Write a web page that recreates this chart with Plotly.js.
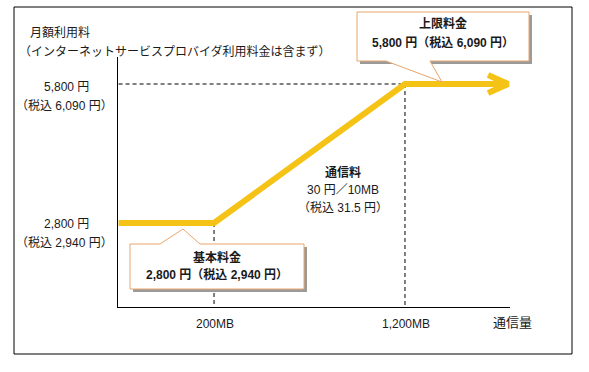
<!DOCTYPE html>
<html>
<head>
<meta charset="utf-8">
<script src="https://cdn.plot.ly/plotly-3.0.1.min.js"></script>
<style>html,body{margin:0;padding:0;background:#fff;}#chart{width:589px;height:372px;}</style>
</head>
<body>
<div id="chart"></div>
<script>
// ---- data (schematic) ----
const usageMB = [-300, 200, 1200, 1740];          // 通信量 (MB); first point = axis origin
const feeYen  = [2800, 2800, 5800, 5800];          // 月額利用料 (円)
const arrowX  = [1635, 1740, 1635];
const arrowY  = [5995, 5800, 5605];
const xTickVals   = [200, 1200];
const xTickLabels = ['200MB', '1,200MB'];
const yTickVals   = [5800, 2800];
const yTickLabels = [['5,800 円', '（税込 6,090 円）'], ['2,800 円', '（税込 2,940 円）']];
const basicFee  = ['基本料金', '2,800 円（税込 2,940 円）'];
const capFee    = ['上限料金', '5,800 円（税込 6,090 円）'];
const unitFee   = ['通信料', '30 円／10MB', '（税込 31.5 円）'];
const yTitle    = ['月額利用料', '（インターネットサービスプロバイダ利用料金は含まず）'];
const xTitle    = '通信量';

// ---- geometry helpers (pixel -> paper) ----
const W = 589, H = 372, L = 118, R = 79, T = 57, B = 65;
const PW = W - L - R, PH = H - T - B;
const px = v => (v - L) / PW;
const py = v => (H - B - v) / PH;
const path = pts => 'M ' + pts.map(p => px(p[0]).toFixed(4) + ',' + py(p[1]).toFixed(4)).join(' L ') + ' Z';

const FONT = '"Liberation Sans", "Noto Sans CJK JP", sans-serif';
const TXT = '#1a1a1a';
const LINE = '#F5C316';
const ORANGE = '#E9A56A';

const traces = [
  {x: usageMB, y: feeYen, mode: 'lines', line: {color: LINE, width: 6}, hoverinfo: 'skip'},
  {x: arrowX, y: arrowY, mode: 'lines', line: {color: LINE, width: 6}, hoverinfo: 'skip'}
];

const shapes = [
  {type: 'rect', xref: 'paper', yref: 'paper', x0: px(14), x1: px(572), y0: py(7), y1: py(354), line: {color: '#000', width: 1}, layer: 'below'},
  {type: 'line', xref: 'x', yref: 'y', x0: -300, x1: xTickVals[1], y0: yTickVals[0], y1: yTickVals[0], line: {color: '#000', width: 1, dash: '4px,3px'}, layer: 'below'},
  {type: 'line', xref: 'x', yref: 'y', x0: xTickVals[1], x1: xTickVals[1], y0: yTickVals[0], y1: 990, line: {color: '#000', width: 1, dash: '4px,3px'}, layer: 'below'},
  {type: 'line', xref: 'x', yref: 'y', x0: xTickVals[0], x1: xTickVals[0], y0: yTickVals[1], y1: 990, line: {color: '#000', width: 1, dash: '4px,3px'}, layer: 'below'},
  {type: 'path', xref: 'paper', yref: 'paper', path: path([[360,15],[532,15],[532,64],[360,64]]), fillcolor: '#9a9a9a', line: {width: 0}, layer: 'above'},
  {type: 'path', xref: 'paper', yref: 'paper', path: path([[133,247],[307,247],[307,292],[133,292]]), fillcolor: '#9a9a9a', line: {width: 0}, layer: 'above'},
  {type: 'path', xref: 'paper', yref: 'paper', path: path([[357,12],[529,12],[529,61],[430,61],[442,82],[386,61],[357,61]]), fillcolor: '#fff', line: {color: ORANGE, width: 1}, layer: 'above'},
  {type: 'path', xref: 'paper', yref: 'paper', path: path([[130,244],[160,244],[183,229],[200,244],[304,244],[304,289],[130,289]]), fillcolor: '#fff', line: {color: ORANGE, width: 1}, layer: 'above'}
];

function ann(text, xPix, yPix, opts) {
  return Object.assign({
    text: text, xref: 'paper', yref: 'paper', x: px(xPix), y: py(yPix),
    xanchor: 'center', yanchor: 'middle', showarrow: false,
    font: {family: FONT, size: 12, color: TXT}
  }, opts || {});
}

const annotations = [
  ann(yTitle[0], 28, 42, {xanchor: 'left', yanchor: 'bottom'}),
  ann(yTitle[1], 17, 42, {xanchor: 'left', yanchor: 'top'}),
  ann(yTickLabels[0][0], 66, 87),
  ann(yTickLabels[0][1], 64, 106),
  ann(yTickLabels[1][0], 66, 224),
  ann(yTickLabels[1][1], 64, 243),
  ann(xTickLabels[0], 215, 324),
  ann(xTickLabels[1], 406, 324),
  ann(xTitle, 512, 322, {font: {family: FONT, size: 13, color: TXT}}),
  ann('<b>' + capFee[0] + '</b>', 443, 23),
  ann('<b>' + capFee[1] + '</b>', 443, 43),
  ann('<b>' + basicFee[0] + '</b>', 217, 257),
  ann('<b>' + basicFee[1] + '</b>', 217, 274),
  ann('<b>' + unitFee[0] + '</b>', 343, 172),
  ann(unitFee[1], 343, 190),
  ann(unitFee[2], 343, 208)
];

const layout = {
  width: W, height: H,
  margin: {l: L, r: R, t: T, b: B, pad: 0},
  paper_bgcolor: '#fff', plot_bgcolor: '#fff',
  showlegend: false, hovermode: false,
  xaxis: {range: [-303, 1750], showgrid: false, zeroline: false, showticklabels: false, ticks: '',
          showline: true, linecolor: '#000', linewidth: 1, fixedrange: true},
  yaxis: {range: [987, 6383], showgrid: false, zeroline: false, showticklabels: false, ticks: '',
          showline: true, linecolor: '#000', linewidth: 1, fixedrange: true},
  shapes: shapes,
  annotations: annotations
};

Plotly.newPlot('chart', traces, layout, {staticPlot: true, displayModeBar: false});
</script>
</body>
</html>
